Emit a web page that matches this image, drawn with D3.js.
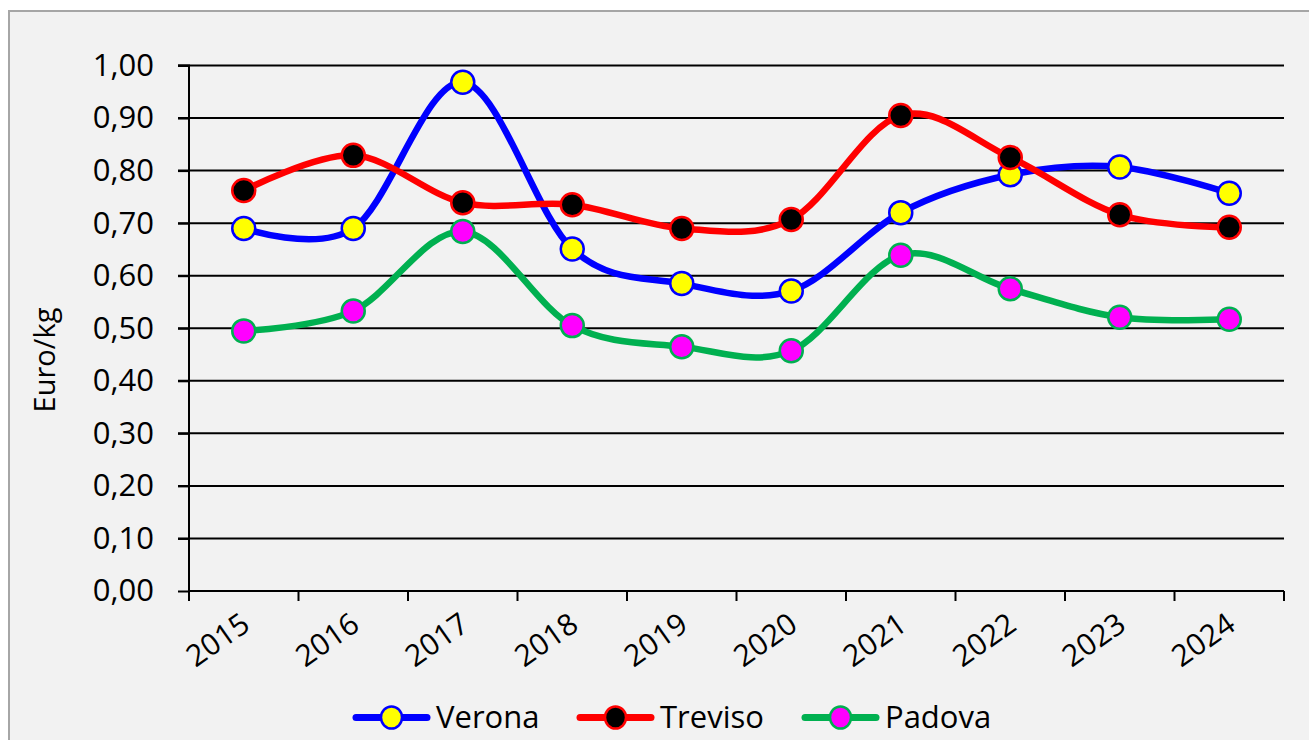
<!DOCTYPE html>
<html>
<head>
<meta charset="utf-8">
<script src="https://cdn.jsdelivr.net/npm/d3@7"></script>
<style>
  html, body { margin: 0; padding: 0; background: #ffffff; }
  svg { display: block; }
  text { font-family: "Open Sans", "Noto Sans", sans-serif; fill: #000; }
</style>
</head>
<body>
<svg id="chart" width="1309" height="740"></svg>
<script>
const years = ["2015","2016","2017","2018","2019","2020","2021","2022","2023","2024"];
const verona  = [0.690, 0.690, 0.968, 0.651, 0.585, 0.571, 0.720, 0.792, 0.807, 0.757];
const treviso = [0.762, 0.829, 0.739, 0.735, 0.690, 0.707, 0.905, 0.825, 0.716, 0.692];
const padova  = [0.495, 0.533, 0.684, 0.505, 0.465, 0.457, 0.639, 0.575, 0.521, 0.517];
const yTicks  = [0, 0.1, 0.2, 0.3, 0.4, 0.5, 0.6, 0.7, 0.8, 0.9, 1.0];
const seriesNames = ["Verona", "Treviso", "Padova"];

(function () {
const series = [
  { name: seriesNames[0], values: verona,  line: "#0000ff", fill: "#ffff00", stroke: "#0000ff" },
  { name: seriesNames[1], values: treviso, line: "#ff0000", fill: "#000000", stroke: "#ff0000" },
  { name: seriesNames[2], values: padova,  line: "#00b050", fill: "#ff00ff", stroke: "#00b050" }
];

const svg = d3.select("#chart");
const W = 1309, H = 740;

svg.append("rect").attr("x", 9).attr("y", 11).attr("width", W + 10).attr("height", H + 10)
  .attr("fill", "#f2f2f2").attr("stroke", "#a6a6a6").attr("stroke-width", 2);

const pL = 189, pR = 1284, pT = 65.5, pB = 591;

const x = d3.scaleBand().domain(years).range([pL, pR]).paddingInner(0).paddingOuter(0);
const y = d3.scaleLinear().domain([0, 1]).range([pB, pT]);

svg.append("g").selectAll("line").data(yTicks.filter(d => d > 0)).join("line")
  .attr("x1", pL - 11).attr("x2", pR)
  .attr("y1", d => y(d)).attr("y2", d => y(d))
  .attr("stroke", "#000").attr("stroke-width", 2);

const yAxis = svg.append("g").attr("transform", `translate(${pL},0)`)
  .call(d3.axisLeft(y).tickValues(yTicks).tickSize(11).tickPadding(24)
    .tickFormat(d => d3.format(".2f")(d).replace(".", ",")));
yAxis.select(".domain").attr("stroke", "#000").attr("stroke-width", 2).attr("d", `M-11,${pT}H0V${pB}`);
yAxis.selectAll(".tick line").attr("stroke", "#000").attr("stroke-width", 2);
yAxis.selectAll(".tick text").attr("font-size", 31).attr("font-family", "'Open Sans', sans-serif").attr("fill", "#000");

const xAxis = svg.append("g").attr("transform", `translate(0,${pB})`)
  .call(d3.axisBottom(x).tickSize(0).tickFormat(""));
xAxis.select(".domain").attr("stroke", "#000").attr("stroke-width", 2).attr("d", `M${pL},0H${pR}`);
xAxis.selectAll(".tick").remove();
const boundaries = years.map((d) => x(d)).concat([x(years[years.length - 1]) + x.bandwidth()]);
xAxis.append("g").selectAll("line").data(boundaries).join("line")
  .attr("x1", d => d).attr("x2", d => d).attr("y1", 0).attr("y2", 10)
  .attr("stroke", "#000").attr("stroke-width", 2);
xAxis.append("g").selectAll("text").data(years).join("text")
  .attr("transform", d => `translate(${x(d) + x.bandwidth() / 2 + 2},${29}) rotate(-35)`)
  .attr("text-anchor", "end").attr("dy", "0.35em")
  .attr("font-size", 30)
  .text(d => d);

svg.append("text")
  .attr("transform", `translate(55,360) rotate(-90)`)
  .attr("text-anchor", "middle").attr("font-size", 29)
  .text("Euro/kg");

const line = d3.line()
  .x((d, i) => x(years[i]) + x.bandwidth() / 2)
  .y(d => y(d))
  .curve(d3.curveCatmullRom.alpha(0));

series.forEach(s => {
  const g = svg.append("g");
  g.append("path").datum(s.values).attr("d", line)
    .attr("fill", "none").attr("stroke", s.line).attr("stroke-width", 6.5)
    .attr("stroke-linejoin", "round").attr("stroke-linecap", "round");
  g.selectAll("circle").data(s.values).join("circle")
    .attr("cx", (d, i) => x(years[i]) + x.bandwidth() / 2)
    .attr("cy", d => y(d))
    .attr("r", 11.5)
    .attr("fill", s.fill).attr("stroke", s.stroke).attr("stroke-width", 2.5);
});

const legendX = [353, 577, 802];
const legendY = 717.5;
series.forEach((s, i) => {
  const g = svg.append("g").attr("transform", `translate(${legendX[i]},${legendY})`);
  g.append("line").attr("x1", 3).attr("x2", 74).attr("y1", 0).attr("y2", 0)
    .attr("stroke", s.line).attr("stroke-width", 7).attr("stroke-linecap", "round");
  g.append("ellipse").attr("cx", 38.5).attr("cy", 0).attr("rx", 10.5).attr("ry", 11)
    .attr("fill", s.fill).attr("stroke", s.stroke).attr("stroke-width", 2.5);
  g.append("text").attr("x", 83).attr("y", 0).attr("dy", "0.35em")
    .attr("font-size", 31).text(s.name);
});
})();
</script>
</body>
</html>
